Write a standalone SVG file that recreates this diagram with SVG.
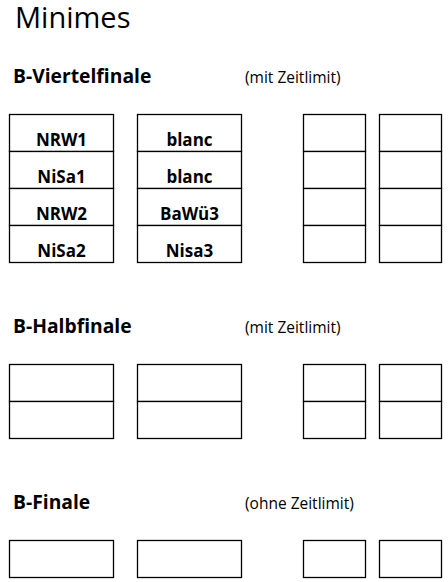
<svg xmlns="http://www.w3.org/2000/svg" width="448" height="582" viewBox="0 0 448 582">
<style>
.c{fill:#fff;stroke:#000;stroke-width:1.3}
.t{font-family:"Open Sans","Liberation Sans",sans-serif;fill:#000}
.h{font-family:"Open Sans","Liberation Sans",sans-serif;font-weight:bold;font-size:19.3px;fill:#000}
.n{font-family:"Open Sans","Liberation Sans",sans-serif;font-size:15.5px;fill:#000}
.l{font-family:"Open Sans","Liberation Sans",sans-serif;font-weight:bold;font-size:17px;fill:#000;text-anchor:middle}
</style>
<rect width="448" height="582" fill="#fff"/>
<text class="t" x="15" y="28" font-size="29">Minimes</text>

<g id="viertelfinale">
<text class="h" x="13" y="83">B-Viertelfinale</text>
<text class="n" x="245" y="83">(mit Zeitlimit)</text>
<g id="vf-col1">
<rect class="c" x="9.5" y="114.5" width="104" height="37"/>
<rect class="c" x="9.5" y="151.5" width="104" height="37"/>
<rect class="c" x="9.5" y="188.5" width="104" height="37"/>
<rect class="c" x="9.5" y="225.5" width="104" height="37"/>
<text class="l" x="61.5" y="146">NRW1</text>
<text class="l" x="61.5" y="183">NiSa1</text>
<text class="l" x="61.5" y="220">NRW2</text>
<text class="l" x="61.5" y="257">NiSa2</text>
</g>
<g id="vf-col2">
<rect class="c" x="137.5" y="114.5" width="104" height="37"/>
<rect class="c" x="137.5" y="151.5" width="104" height="37"/>
<rect class="c" x="137.5" y="188.5" width="104" height="37"/>
<rect class="c" x="137.5" y="225.5" width="104" height="37"/>
<text class="l" x="189.5" y="146">blanc</text>
<text class="l" x="189.5" y="183">blanc</text>
<text class="l" x="189.5" y="220">BaWü3</text>
<text class="l" x="189.5" y="257">Nisa3</text>
</g>
<g id="vf-col3">
<rect class="c" x="303.5" y="114.5" width="62" height="37"/>
<rect class="c" x="303.5" y="151.5" width="62" height="37"/>
<rect class="c" x="303.5" y="188.5" width="62" height="37"/>
<rect class="c" x="303.5" y="225.5" width="62" height="37"/>
</g>
<g id="vf-col4">
<rect class="c" x="379.5" y="114.5" width="62" height="37"/>
<rect class="c" x="379.5" y="151.5" width="62" height="37"/>
<rect class="c" x="379.5" y="188.5" width="62" height="37"/>
<rect class="c" x="379.5" y="225.5" width="62" height="37"/>
</g>
</g>

<g id="halbfinale">
<text class="h" x="13" y="333">B-Halbfinale</text>
<text class="n" x="245" y="333">(mit Zeitlimit)</text>
<g id="hf-col1">
<rect class="c" x="9.5" y="364.5" width="104" height="37"/>
<rect class="c" x="9.5" y="401.5" width="104" height="37"/>
</g>
<g id="hf-col2">
<rect class="c" x="137.5" y="364.5" width="104" height="37"/>
<rect class="c" x="137.5" y="401.5" width="104" height="37"/>
</g>
<g id="hf-col3">
<rect class="c" x="303.5" y="364.5" width="62" height="37"/>
<rect class="c" x="303.5" y="401.5" width="62" height="37"/>
</g>
<g id="hf-col4">
<rect class="c" x="379.5" y="364.5" width="62" height="37"/>
<rect class="c" x="379.5" y="401.5" width="62" height="37"/>
</g>
</g>

<g id="finale">
<text class="h" x="13" y="509">B-Finale</text>
<text class="n" x="245" y="509">(ohne Zeitlimit)</text>
<g id="f-col1"><rect class="c" x="9.5" y="540.5" width="104" height="37"/></g>
<g id="f-col2"><rect class="c" x="137.5" y="540.5" width="104" height="37"/></g>
<g id="f-col3"><rect class="c" x="303.5" y="540.5" width="62" height="37"/></g>
<g id="f-col4"><rect class="c" x="379.5" y="540.5" width="62" height="37"/></g>
</g>
</svg>
